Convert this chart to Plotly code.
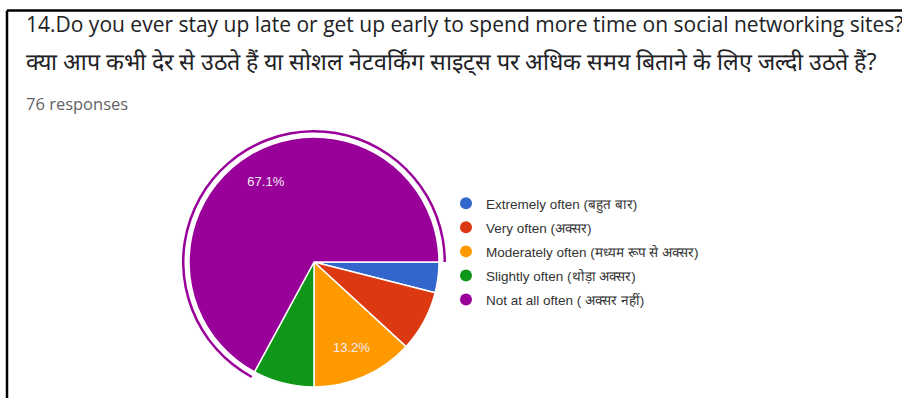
import plotly.graph_objects as go

# Survey answers (76 responses)
labels = [
    "Extremely often (बहुत बार)",
    "Very often (अक्सर)",
    "Moderately often (मध्यम रूप से अक्सर)",
    "Slightly often (थोड़ा अक्सर)",
    "Not at all often ( अक्सर नहीं)",
]
counts = [3, 6, 10, 6, 51]
colors = ["#3366CC", "#DC3912", "#FF9900", "#109618", "#990099"]
shown_labels = [False, False, True, False, True]
highlighted = [False, False, False, False, True]

title_en = "14.Do you ever stay up late or get up early to spend more time on social networking sites?"
title_hi = "क्या आप कभी देर से उठते हैं या सोशल नेटवर्किंग साइट्स पर अधिक समय बिताने के लिए जल्दी उठते हैं?"
subtitle = "76 responses"

W, H = 902, 398
CX, CY, R = 314, 262, 125  # pie centre and radius in pixels


def domain(radius):
    return dict(
        x=[(CX - radius) / W, (CX + radius) / W],
        y=[1 - (CY + radius) / H, 1 - (CY - radius) / H],
    )


fig = go.Figure()

# thin highlight ring around the selected slice
ring_out, ring_in = R + 7, R + 4.5
fig.add_trace(go.Pie(
    values=counts, sort=False, direction="clockwise", rotation=90,
    domain=domain(ring_out), hole=ring_in / ring_out,
    marker=dict(colors=[c if h else "rgba(0,0,0,0)" for c, h in zip(colors, highlighted)],
                line=dict(width=0)),
    textinfo="none", hoverinfo="skip", showlegend=False,
))

# main pie
fig.add_trace(go.Pie(
    labels=labels, values=counts, sort=False, direction="clockwise", rotation=90,
    domain=domain(R),
    marker=dict(colors=colors, line=dict(color="white", width=1.5)),
    textinfo="none", showlegend=False,
))

# percentage labels placed on a transparent donut so they sit at 3/4 radius
fig.add_trace(go.Pie(
    values=counts, sort=False, direction="clockwise", rotation=90,
    domain=domain(R), hole=0.5,
    marker=dict(colors=["rgba(0,0,0,0)"] * len(counts), line=dict(width=0)),
    texttemplate=["%{percent:.1%}" if s else "" for s in shown_labels],
    textposition="inside", insidetextorientation="horizontal",
    textfont=dict(family="Arial, Liberation Sans", size=13, color="#f4ecf4"),
    hoverinfo="skip", showlegend=False,
))

# legend entries with round markers
for name, col in zip(labels, colors):
    fig.add_trace(go.Scatter(
        x=[None], y=[None], mode="markers", name=name, legendgroup=name,
        marker=dict(symbol="circle", size=11, color=col),
    ))

fig.add_annotation(x=24 / W, y=1 - 24 / H, xref="paper", yref="paper",
                   xanchor="left", yanchor="middle", showarrow=False,
                   text=title_en, font=dict(family="Open Sans", size=21, color="#202124"))
fig.add_annotation(x=24 / W, y=1 - 61 / H, xref="paper", yref="paper",
                   xanchor="left", yanchor="middle", showarrow=False,
                   text=title_hi, font=dict(family="Open Sans", size=23.2, color="#202124"))
fig.add_annotation(x=24 / W, y=1 - 103 / H, xref="paper", yref="paper",
                   xanchor="left", yanchor="middle", showarrow=False,
                   text=subtitle, font=dict(family="Open Sans", size=16.5, color="#5f6368"))

# frame lines (top and left)
fig.add_shape(type="line", xref="paper", yref="paper",
              x0=7 / W, x1=1, y0=1 - 10.5 / H, y1=1 - 10.5 / H,
              line=dict(color="black", width=2.5))
fig.add_shape(type="line", xref="paper", yref="paper",
              x0=7 / W, x1=7 / W, y0=0, y1=1 - 10.5 / H,
              line=dict(color="black", width=2.5))

fig.update_layout(
    width=W, height=H, margin=dict(l=0, r=0, t=0, b=0),
    paper_bgcolor="white", plot_bgcolor="white",
    xaxis=dict(visible=False), yaxis=dict(visible=False),
    legend=dict(x=446 / W, y=1 - 188 / H, xanchor="left", yanchor="top",
                traceorder="grouped", tracegroupgap=3.5, itemsizing="constant",
                font=dict(family="Arial, Liberation Sans", size=13.5, color="#333333"),
                bgcolor="rgba(0,0,0,0)"),
)

fig.write_html("out.html")
